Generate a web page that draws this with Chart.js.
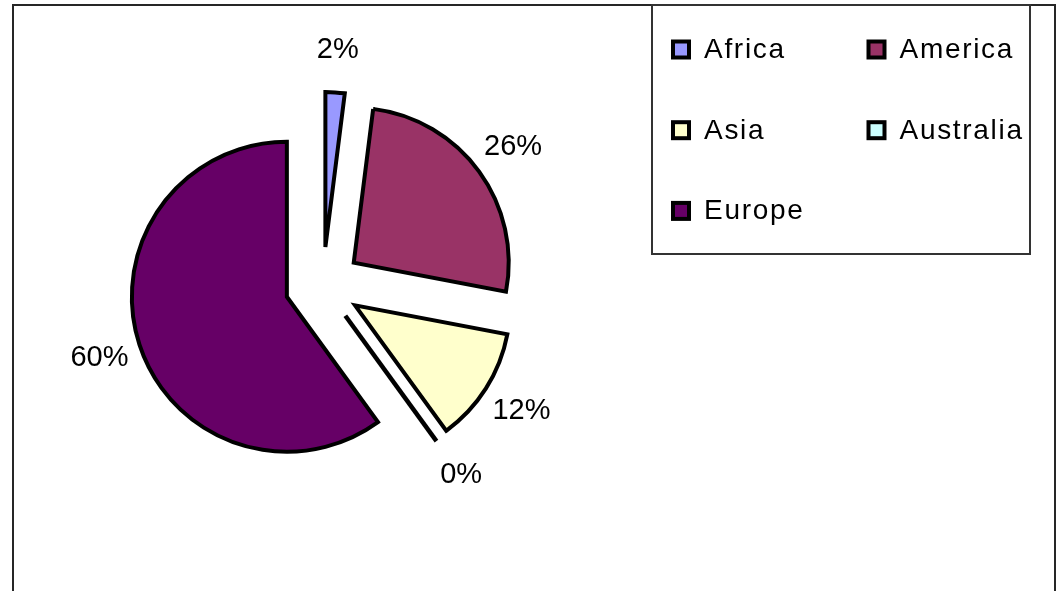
<!DOCTYPE html>
<html>
<head>
<meta charset="utf-8">
<title>Regional share</title>
<script src="https://cdn.jsdelivr.net/npm/chart.js@4/dist/chart.umd.min.js"></script>
<style>
  html, body { margin: 0; padding: 0; background: #ffffff; }
  #wrap { position: relative; width: 1060px; height: 591px; }
  canvas { display: block; }
</style>
</head>
<body>
<div id="wrap"><canvas id="pie" width="1060" height="591"></canvas></div>
<script>
// Regions and their share of the total, in percent
const regions = ['Africa', 'America', 'Asia', 'Australia', 'Europe'];
const shares = [2, 26, 12, 0, 60];
const sliceColors = ['#9999FF', '#993366', '#FFFFCC', '#CCFFFF', '#660066'];

const EXPLODE = 38;      // how far every slice is pulled away from the centre
const PIE_RADIUS = 155;
const LABEL_GAP = 42;    // distance of the percent labels beyond the rim
const FONT = '"Liberation Sans", Arial, sans-serif';

// Pull each slice outward along its mid-angle (exploded pie)
const explodePlugin = {
  id: 'explode',
  afterDatasetsUpdate(chart) {
    chart.getDatasetMeta(0).data.forEach(el => {
      const mid = (el.startAngle + el.endAngle) / 2;
      el.x += Math.cos(mid) * EXPLODE;
      el.y += Math.sin(mid) * EXPLODE;
    });
  }
};

// Frame around the whole chart
const framePlugin = {
  id: 'frame',
  beforeDraw(chart) {
    const ctx = chart.ctx;
    ctx.save();
    ctx.fillStyle = '#ffffff';
    ctx.fillRect(0, 0, chart.width, chart.height);
    ctx.strokeStyle = '#262626';
    ctx.lineWidth = 2;
    ctx.beginPath();
    ctx.moveTo(13, chart.height + 2);
    ctx.lineTo(13, 5);
    ctx.lineTo(1055, 5);
    ctx.lineTo(1055, chart.height + 2);
    ctx.stroke();
    ctx.restore();
  }
};

// Zero-size slices still show their edge, and every slice gets its percent label
const labelPlugin = {
  id: 'sliceLabels',
  afterDatasetsDraw(chart) {
    const ctx = chart.ctx;
    const meta = chart.getDatasetMeta(0);
    const values = chart.data.datasets[0].data;
    ctx.save();
    meta.data.forEach((el, i) => {
      const mid = (el.startAngle + el.endAngle) / 2;
      if (el.endAngle - el.startAngle === 0) {
        ctx.strokeStyle = '#000000';
        ctx.lineWidth = 4.5;
        ctx.beginPath();
        ctx.moveTo(el.x, el.y);
        ctx.lineTo(el.x + Math.cos(el.startAngle) * el.outerRadius,
                   el.y + Math.sin(el.startAngle) * el.outerRadius);
        ctx.stroke();
      }
      const d = el.outerRadius + LABEL_GAP;
      ctx.font = '29px ' + FONT;
      ctx.fillStyle = '#000000';
      ctx.textAlign = 'center';
      ctx.textBaseline = 'middle';
      ctx.fillText(values[i] + '%', el.x + Math.cos(mid) * d, el.y + Math.sin(mid) * d);
    });
    ctx.restore();
  }
};

// Boxed two-column legend in the upper right
const legendPlugin = {
  id: 'boxLegend',
  afterDraw(chart) {
    const ctx = chart.ctx;
    const labels = chart.data.labels;
    const colors = chart.data.datasets[0].backgroundColor;
    ctx.save();
    ctx.strokeStyle = '#333333';
    ctx.lineWidth = 2;
    ctx.strokeRect(652, 5, 378, 249);
    ctx.font = '28px ' + FONT;
    ctx.letterSpacing = '1.7px';
    ctx.textAlign = 'left';
    ctx.textBaseline = 'alphabetic';
    labels.forEach((name, i) => {
      const col = i % 2, row = Math.floor(i / 2);
      const x = 671 + col * 195.5;
      const y = 39.5 + row * 80.7;
      ctx.fillStyle = colors[i];
      ctx.fillRect(x + 2, y + 2, 16, 16);
      ctx.strokeStyle = '#000000';
      ctx.lineWidth = 4;
      ctx.strokeRect(x + 2, y + 2, 16, 16);
      ctx.fillStyle = '#000000';
      ctx.fillText(name, x + 33, y + 18.5);
    });
    ctx.restore();
  }
};

new Chart(document.getElementById('pie'), {
  type: 'pie',
  data: {
    labels: regions,
    datasets: [{
      data: shares,
      backgroundColor: sliceColors,
      borderColor: '#000000',
      borderWidth: 4,
      borderJoinStyle: 'miter',
      radius: PIE_RADIUS
    }]
  },
  options: {
    responsive: false,
    animation: false,
    events: [],
    layout: { padding: { left: 0, top: 0, right: 414, bottom: 21 } },
    plugins: {
      legend: { display: false },
      tooltip: { enabled: false }
    }
  },
  plugins: [framePlugin, explodePlugin, labelPlugin, legendPlugin]
});
</script>
</body>
</html>
